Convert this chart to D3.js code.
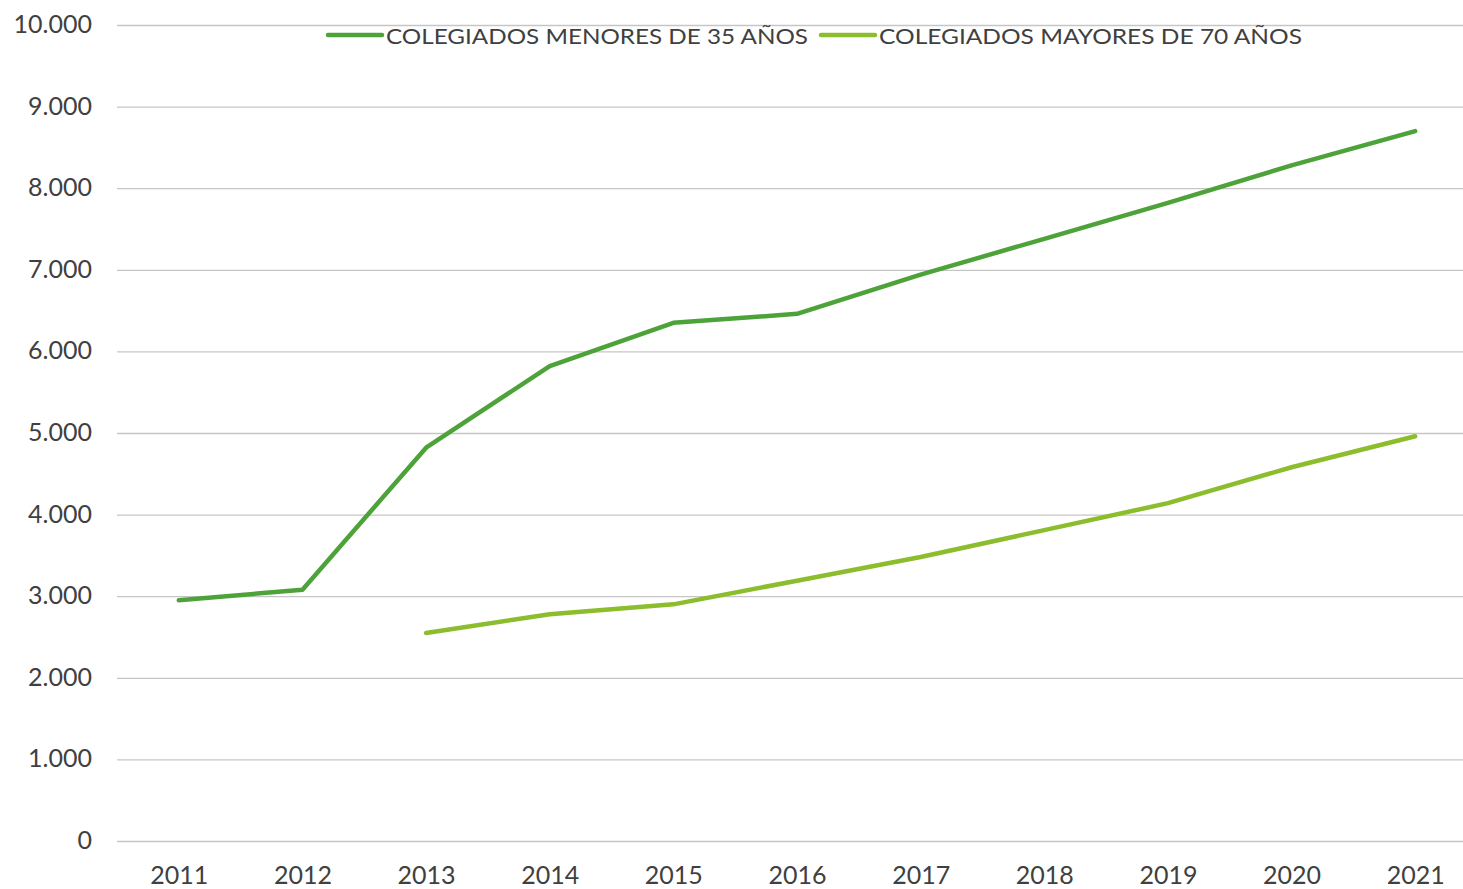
<!DOCTYPE html>
<html>
<head>
<meta charset="utf-8">
<script src="https://cdn.jsdelivr.net/npm/d3@7"></script>
<style>
  body { margin: 0; background: #fff; }
  svg text { font-family: "Lato", "Open Sans", sans-serif; fill: #404040; }
</style>
</head>
<body>
<svg id="chart" width="1463" height="889"></svg>
<script>
// years on the x axis
var years = ['2011', '2012', '2013', '2014', '2015', '2016', '2017', '2018', '2019', '2020', '2021']
// colegiados menores de 35 años
var menores35 = [2950, 3080, 4820, 5820, 6350, 6460, 6940, 7380, 7820, 8280, 8700]
// colegiados mayores de 70 años (no data before 2013)
var mayores70 = [null, null, 2550, 2780, 2900, 3190, 3480, 3810, 4140, 4580, 4960]
var yTicks = [0, 1000, 2000, 3000, 4000, 5000, 6000, 7000, 8000, 9000, 10000]
var seriesNames = ['COLEGIADOS MENORES DE 35 AÑOS', 'COLEGIADOS MAYORES DE 70 AÑOS']
var seriesColors = ['#4ea23a', '#8cbd2c']

var svg = d3.select('#chart')
var plotLeft = 117, plotRight = 1477, plotTop = 25, plotBottom = 841

var x = d3.scalePoint().domain(years).range([plotLeft, plotRight]).padding(0.5)
var y = d3.scaleLinear().domain([0, 10000]).range([plotBottom, plotTop])

var fmt = function(v) { return d3.format(',')(v).replace(/,/g, '.') }

/* Horizontal gridlines and value labels */
var yAxis = svg.append('g').attr('transform', 'translate(' + plotLeft + ',0)')
	.call(d3.axisLeft(y).tickValues(yTicks).tickFormat(fmt).tickSize(-(1463 - plotLeft)).tickPadding(25))
yAxis.select('.domain').remove()
yAxis.selectAll('.tick line').attr('stroke', '#c6c6c6').attr('stroke-width', 1.3)
yAxis.selectAll('.tick text').style('font-size', '25px').attr('dy', '0.3em')

/* Year labels */
var xAxis = svg.append('g').attr('transform', 'translate(0,' + plotBottom + ')')
	.call(d3.axisBottom(x).tickSize(0).tickPadding(30))
xAxis.select('.domain').remove()
xAxis.selectAll('.tick text').style('font-size', '25px').attr('dy', '0.5em')

/* Lines */
var line = d3.line()
	.defined(function(d) { return d != null })
	.x(function(d, i) { return x(years[i]) })
	.y(function(d) { return y(d) })

;[menores35, mayores70].forEach(function(values, i) {
	svg.append('path')
		.attr('d', line(values))
		.attr('fill', 'none')
		.attr('stroke', seriesColors[i])
		.attr('stroke-width', 4.5)
		.attr('stroke-linecap', 'round')
		.attr('stroke-linejoin', 'round')
})

/* Legend */
var legendX = [328, 821]
seriesNames.forEach(function(name, i) {
	var g = svg.append('g').attr('transform', 'translate(' + legendX[i] + ',35)')
	g.append('line').attr('x1', 0).attr('x2', 54).attr('y1', 0).attr('y2', 0)
		.attr('stroke', seriesColors[i]).attr('stroke-width', 4.5).attr('stroke-linecap', 'round')
	g.append('text').attr('x', 58).attr('y', 8.5)
		.style('font-size', '22px')
		.attr('textLength', i == 0 ? 422 : 423)
		.attr('lengthAdjust', 'spacingAndGlyphs')
		.text(name)
})
</script>
</body>
</html>
